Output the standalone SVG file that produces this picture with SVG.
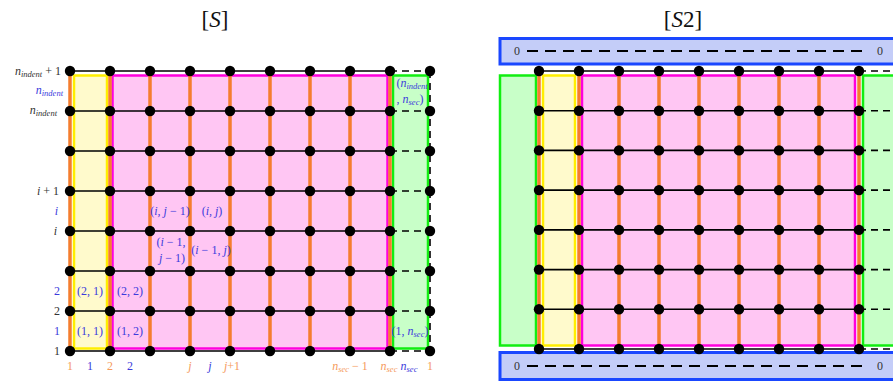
<svg xmlns="http://www.w3.org/2000/svg" width="893" height="385" viewBox="0 0 893 385">
<style>
text{font-family:"Liberation Serif","DejaVu Serif",serif;font-style:italic;font-size:12px}
.title{font-style:normal;font-size:23px;fill:#111;text-anchor:middle}
.k{fill:#333}
.b{fill:#3b3bdc}
.o{fill:#f59a5c}
.m{text-anchor:middle}
.e{text-anchor:end}
.up{font-style:normal}
.sub{font-size:8.5px}
.yel{fill:#fffacc;stroke:#ffee00;stroke-width:2.5}
.mag{fill:#ffc6f3;stroke:#ff00dd;stroke-width:2.5}
.grn{fill:#c8ffc8;stroke:#11ee11;stroke-width:2.5}
.blu{fill:#c4cdf8;stroke:#1a47ff;stroke-width:3}
.or{stroke:#f57d2e;stroke-width:3.5}
.hl{stroke:#000;stroke-width:1.6}
.dl{stroke:#000;stroke-width:1.6;stroke-dasharray:7,5}
.bd{stroke:#000;stroke-width:1.8;stroke-dasharray:11,7}
</style>
<defs>
<circle id="nd" r="5.2" fill="#000"/>
</defs>
<text class="title" x="215" y="27">[<tspan font-style="italic">S</tspan>]</text>
<text class="title" x="683" y="27">[<tspan font-style="italic">S</tspan>2]</text>

<g id="left-regions">
<rect id="L-yellow" class="yel" x="74" y="75.5" width="33" height="273"/>
<rect id="L-magenta" class="mag" x="112.5" y="75.5" width="275" height="273"/>
<rect id="L-green" class="grn" x="393" y="75.5" width="35" height="273"/>
</g>
<g id="right-regions">
<rect id="R-green-left" class="grn" x="500" y="75.5" width="36" height="270"/>
<rect id="R-yellow" class="yel" x="543" y="75.5" width="32" height="270"/>
<rect id="R-magenta" class="mag" x="582" y="75.5" width="273" height="270"/>
<rect id="R-green-right" class="grn" x="863" y="75.5" width="40" height="270"/>
<rect id="R-blue-top" class="blu" x="500" y="38.5" width="400" height="25.5"/>
<rect id="R-blue-bottom" class="blu" x="500" y="352.5" width="400" height="27"/>
</g>

<g id="connectors">
<g id="L-orange">
<path class="or" d="M70 71V351M110 71V351M150 71V351M190 71V351M230 71V351M270 71V351M310 71V351M350 71V351M390 71V351"/>
</g>
<g id="L-horizontal">
<path class="hl" d="M70 71H390M70 111H390M70 151H390M70 191H390M70 231H390M70 271H390M70 311H390M70 351H390"/>
<path class="dl" d="M390 71H430M390 111H430M390 151H430M390 191H430M390 231H430M390 271H430M390 311H430M390 351H430M430 71V351"/>
</g>
<g id="R-orange">
<path class="or" d="M539 71V349M579 71V349M619 71V349M659 71V349M699 71V349M739 71V349M779 71V349M819 71V349M859 71V349"/>
</g>
<g id="R-horizontal">
<path class="hl" d="M539 71H859M539 110.7H859M539 150.4H859M539 190.1H859M539 229.9H859M539 269.6H859M539 309.3H859M539 349H859"/>
<path class="dl" d="M859 71H893M859 110.7H893M859 150.4H893M859 190.1H893M859 229.9H893M859 269.6H893M859 309.3H893M859 349H893"/>
</g>
<path class="bd" d="M527 51H868M527 366H868"/>
</g>

<g id="L-nodes">
<g id="L-r1"><use href="#nd" x="70" y="71"/><use href="#nd" x="110" y="71"/><use href="#nd" x="150" y="71"/><use href="#nd" x="190" y="71"/><use href="#nd" x="230" y="71"/><use href="#nd" x="270" y="71"/><use href="#nd" x="310" y="71"/><use href="#nd" x="350" y="71"/><use href="#nd" x="390" y="71"/><use href="#nd" x="430" y="71"/></g>
<g id="L-r2"><use href="#nd" x="70" y="111"/><use href="#nd" x="110" y="111"/><use href="#nd" x="150" y="111"/><use href="#nd" x="190" y="111"/><use href="#nd" x="230" y="111"/><use href="#nd" x="270" y="111"/><use href="#nd" x="310" y="111"/><use href="#nd" x="350" y="111"/><use href="#nd" x="390" y="111"/><use href="#nd" x="430" y="111"/></g>
<g id="L-r3"><use href="#nd" x="70" y="151"/><use href="#nd" x="110" y="151"/><use href="#nd" x="150" y="151"/><use href="#nd" x="190" y="151"/><use href="#nd" x="230" y="151"/><use href="#nd" x="270" y="151"/><use href="#nd" x="310" y="151"/><use href="#nd" x="350" y="151"/><use href="#nd" x="390" y="151"/><use href="#nd" x="430" y="151"/></g>
<g id="L-r4"><use href="#nd" x="70" y="191"/><use href="#nd" x="110" y="191"/><use href="#nd" x="150" y="191"/><use href="#nd" x="190" y="191"/><use href="#nd" x="230" y="191"/><use href="#nd" x="270" y="191"/><use href="#nd" x="310" y="191"/><use href="#nd" x="350" y="191"/><use href="#nd" x="390" y="191"/><use href="#nd" x="430" y="191"/></g>
<g id="L-r5"><use href="#nd" x="70" y="231"/><use href="#nd" x="110" y="231"/><use href="#nd" x="150" y="231"/><use href="#nd" x="190" y="231"/><use href="#nd" x="230" y="231"/><use href="#nd" x="270" y="231"/><use href="#nd" x="310" y="231"/><use href="#nd" x="350" y="231"/><use href="#nd" x="390" y="231"/><use href="#nd" x="430" y="231"/></g>
<g id="L-r6"><use href="#nd" x="70" y="271"/><use href="#nd" x="110" y="271"/><use href="#nd" x="150" y="271"/><use href="#nd" x="190" y="271"/><use href="#nd" x="230" y="271"/><use href="#nd" x="270" y="271"/><use href="#nd" x="310" y="271"/><use href="#nd" x="350" y="271"/><use href="#nd" x="390" y="271"/><use href="#nd" x="430" y="271"/></g>
<g id="L-r7"><use href="#nd" x="70" y="311"/><use href="#nd" x="110" y="311"/><use href="#nd" x="150" y="311"/><use href="#nd" x="190" y="311"/><use href="#nd" x="230" y="311"/><use href="#nd" x="270" y="311"/><use href="#nd" x="310" y="311"/><use href="#nd" x="350" y="311"/><use href="#nd" x="390" y="311"/><use href="#nd" x="430" y="311"/></g>
<g id="L-r8"><use href="#nd" x="70" y="351"/><use href="#nd" x="110" y="351"/><use href="#nd" x="150" y="351"/><use href="#nd" x="190" y="351"/><use href="#nd" x="230" y="351"/><use href="#nd" x="270" y="351"/><use href="#nd" x="310" y="351"/><use href="#nd" x="350" y="351"/><use href="#nd" x="390" y="351"/><use href="#nd" x="430" y="351"/></g>
</g>

<g id="R-nodes">
<g id="R-r1"><use href="#nd" x="539" y="71"/><use href="#nd" x="579" y="71"/><use href="#nd" x="619" y="71"/><use href="#nd" x="659" y="71"/><use href="#nd" x="699" y="71"/><use href="#nd" x="739" y="71"/><use href="#nd" x="779" y="71"/><use href="#nd" x="819" y="71"/><use href="#nd" x="859" y="71"/></g>
<g id="R-r2"><use href="#nd" x="539" y="110.7"/><use href="#nd" x="579" y="110.7"/><use href="#nd" x="619" y="110.7"/><use href="#nd" x="659" y="110.7"/><use href="#nd" x="699" y="110.7"/><use href="#nd" x="739" y="110.7"/><use href="#nd" x="779" y="110.7"/><use href="#nd" x="819" y="110.7"/><use href="#nd" x="859" y="110.7"/></g>
<g id="R-r3"><use href="#nd" x="539" y="150.4"/><use href="#nd" x="579" y="150.4"/><use href="#nd" x="619" y="150.4"/><use href="#nd" x="659" y="150.4"/><use href="#nd" x="699" y="150.4"/><use href="#nd" x="739" y="150.4"/><use href="#nd" x="779" y="150.4"/><use href="#nd" x="819" y="150.4"/><use href="#nd" x="859" y="150.4"/></g>
<g id="R-r4"><use href="#nd" x="539" y="190.1"/><use href="#nd" x="579" y="190.1"/><use href="#nd" x="619" y="190.1"/><use href="#nd" x="659" y="190.1"/><use href="#nd" x="699" y="190.1"/><use href="#nd" x="739" y="190.1"/><use href="#nd" x="779" y="190.1"/><use href="#nd" x="819" y="190.1"/><use href="#nd" x="859" y="190.1"/></g>
<g id="R-r5"><use href="#nd" x="539" y="229.9"/><use href="#nd" x="579" y="229.9"/><use href="#nd" x="619" y="229.9"/><use href="#nd" x="659" y="229.9"/><use href="#nd" x="699" y="229.9"/><use href="#nd" x="739" y="229.9"/><use href="#nd" x="779" y="229.9"/><use href="#nd" x="819" y="229.9"/><use href="#nd" x="859" y="229.9"/></g>
<g id="R-r6"><use href="#nd" x="539" y="269.6"/><use href="#nd" x="579" y="269.6"/><use href="#nd" x="619" y="269.6"/><use href="#nd" x="659" y="269.6"/><use href="#nd" x="699" y="269.6"/><use href="#nd" x="739" y="269.6"/><use href="#nd" x="779" y="269.6"/><use href="#nd" x="819" y="269.6"/><use href="#nd" x="859" y="269.6"/></g>
<g id="R-r7"><use href="#nd" x="539" y="309.3"/><use href="#nd" x="579" y="309.3"/><use href="#nd" x="619" y="309.3"/><use href="#nd" x="659" y="309.3"/><use href="#nd" x="699" y="309.3"/><use href="#nd" x="739" y="309.3"/><use href="#nd" x="779" y="309.3"/><use href="#nd" x="819" y="309.3"/><use href="#nd" x="859" y="309.3"/></g>
<g id="R-r8"><use href="#nd" x="539" y="349"/><use href="#nd" x="579" y="349"/><use href="#nd" x="619" y="349"/><use href="#nd" x="659" y="349"/><use href="#nd" x="699" y="349"/><use href="#nd" x="739" y="349"/><use href="#nd" x="779" y="349"/><use href="#nd" x="819" y="349"/><use href="#nd" x="859" y="349"/></g>
</g>

<g id="row-labels">
<text class="k e" x="61" y="75">n<tspan class="sub" dy="2">indent</tspan><tspan class="up" dy="-2"> + 1</tspan></text>
<text class="b e" x="63" y="94">n<tspan class="sub" dy="2">indent</tspan></text>
<text class="k e" x="57" y="114">n<tspan class="sub" dy="2">indent</tspan></text>
<text class="k e" x="59" y="195">i<tspan class="up"> + 1</tspan></text>
<text class="b e" x="58" y="215">i</text>
<text class="k e" x="57" y="235">i</text>
<text class="b e up" x="60" y="295">2</text>
<text class="k e up" x="60" y="315">2</text>
<text class="b e up" x="60" y="335">1</text>
<text class="k e up" x="60" y="355">1</text>
</g>

<g id="col-labels">
<text class="o m up" x="70" y="370">1</text>
<text class="b m up" x="90" y="370">1</text>
<text class="o m up" x="110" y="370">2</text>
<text class="b m up" x="130" y="370">2</text>
<text class="o m" x="190" y="370">j</text>
<text class="b m" x="210" y="370">j</text>
<text class="o m" x="232" y="370">j<tspan class="up">+1</tspan></text>
<text class="o m" x="350" y="370">n<tspan class="sub" dy="2">sec</tspan><tspan class="up" dy="-2"> − 1</tspan></text>
<text class="o m" x="389" y="370">n<tspan class="sub" dy="2">sec</tspan></text>
<text class="b m" x="409" y="370">n<tspan class="sub" dy="2">sec</tspan></text>
<text class="o m up" x="430" y="370">1</text>
</g>

<g id="cell-labels">
<text class="b m up" x="90" y="295">(2, 1)</text>
<text class="b m up" x="130" y="295">(2, 2)</text>
<text class="b m up" x="90" y="335">(1, 1)</text>
<text class="b m up" x="130" y="335">(1, 2)</text>
<text class="b m" x="170" y="215"><tspan class="up">(</tspan>i, j <tspan class="up">− 1)</tspan></text>
<text class="b m" x="212" y="215"><tspan class="up">(</tspan>i, j<tspan class="up">)</tspan></text>
<text class="b m" x="171" y="246"><tspan class="up">(</tspan>i <tspan class="up">− 1,</tspan></text>
<text class="b m" x="172" y="262">j <tspan class="up">− 1)</tspan></text>
<text class="b m" x="211" y="254"><tspan class="up">(</tspan>i <tspan class="up">− 1, </tspan>j<tspan class="up">)</tspan></text>
<text class="b m" x="412" y="87"><tspan class="up">(</tspan>n<tspan class="sub" dy="2">indent</tspan></text>
<text class="b m" x="410" y="103"><tspan class="up">, </tspan>n<tspan class="sub" dy="2">sec</tspan><tspan class="up" dy="-2">)</tspan></text>
<text class="b m" x="410" y="335"><tspan class="up">(1, </tspan>n<tspan class="sub" dy="2">sec</tspan><tspan class="up" dy="-2">)</tspan></text>
</g>

<g id="zero-labels">
<text class="k m up" x="517" y="55">0</text>
<text class="k m up" x="880" y="55">0</text>
<text class="k m up" x="517" y="370">0</text>
<text class="k m up" x="880" y="370">0</text>
</g>
</svg>
